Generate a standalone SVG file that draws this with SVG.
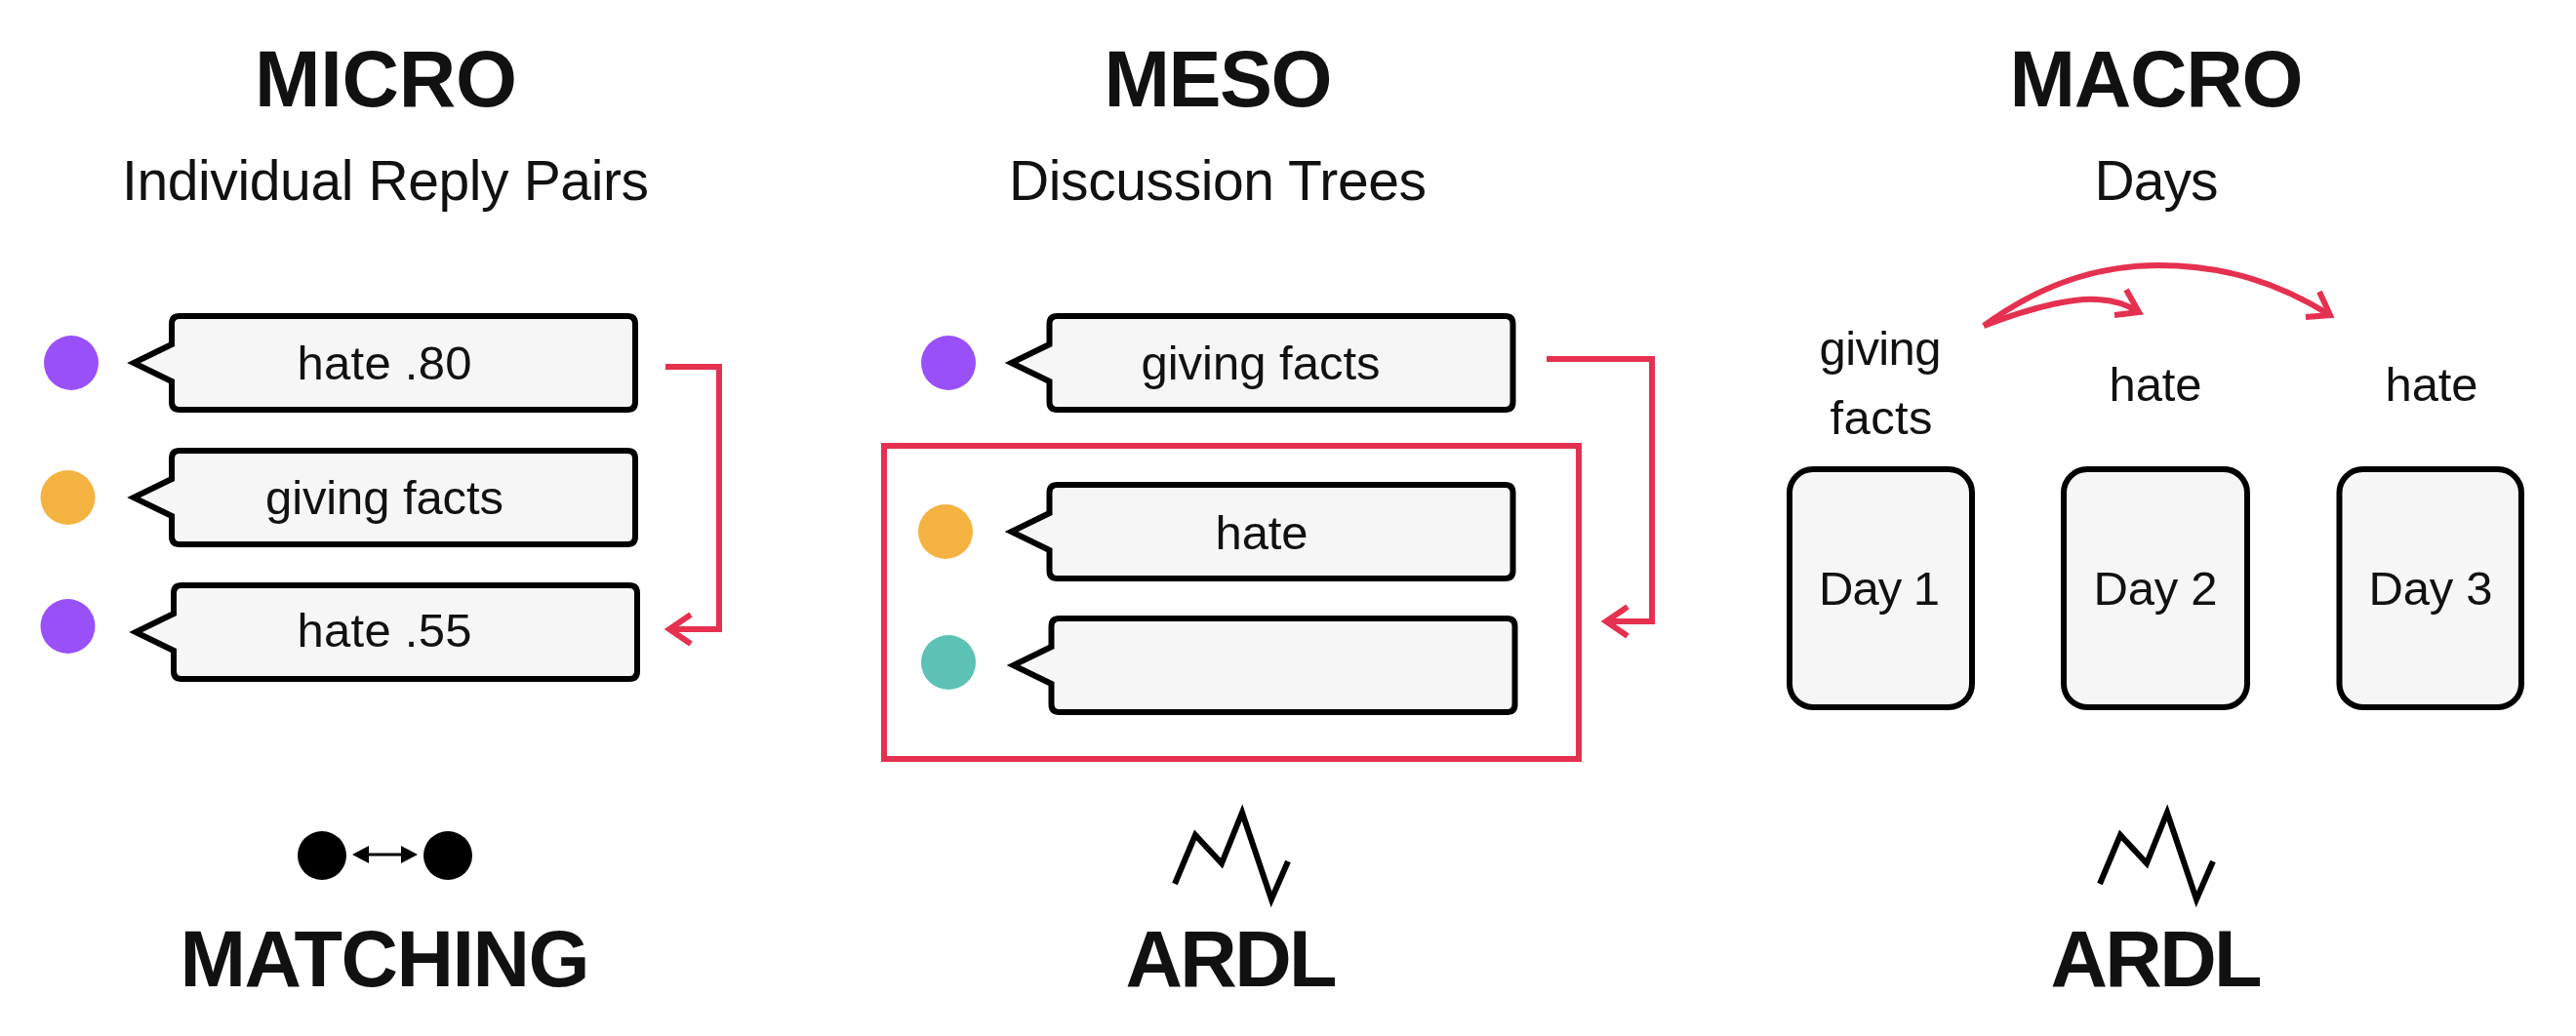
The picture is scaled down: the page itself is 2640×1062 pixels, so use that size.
<svg xmlns="http://www.w3.org/2000/svg" width="2640" height="1062" viewBox="0 0 2640 1062">
<style>
text{font-family:"Liberation Sans",Arial,sans-serif;fill:#111;text-anchor:middle}
.h{font-size:81px;font-weight:700}
.s{font-size:57px}
.t{font-size:49px}
.b{fill:#f6f6f6;stroke:#000;stroke-width:6;stroke-linejoin:miter}
.r{fill:none;stroke:#e5314f;stroke-width:6;stroke-linejoin:miter}
.k{fill:none;stroke:#000;stroke-width:6;stroke-linejoin:miter}
.pu{fill:#9a50f8}.or{fill:#f4b341}.te{fill:#5bc2b5}
</style>
<defs>
<path id="bubble" d="M8 0H467Q475 0 475 8V88Q475 96 467 96H8Q0 96 0 88V67L-39 48L0 29V8Q0 0 8 0Z"/>
<polyline id="zig" points="1204,906 1225,856 1252,885 1273,833 1303,922 1320,883"/>
</defs>
<g id="titles">
<text class="h" x="395.500" y="109" textLength="269">MICRO</text>
<text class="s" x="395" y="205" textLength="540">Individual Reply Pairs</text>
<text class="h" x="1248.500" y="109" textLength="234">MESO</text>
<text class="s" x="1248" y="205" textLength="428">Discussion Trees</text>
<text class="h" x="2210" y="109" textLength="301">MACRO</text>
<text class="s" x="2210" y="205" textLength="127">Days</text>
</g>
<g id="micro-1"><circle class="pu" cx="73" cy="372" r="28"/><use href="#bubble" class="b" x="176" y="324"/><text class="t" x="394" y="389" textLength="179">hate .80</text></g>
<g id="micro-2"><circle class="or" cx="69.500" cy="510" r="28"/><use href="#bubble" class="b" x="176" y="462"/><text class="t" x="394" y="527" textLength="244">giving facts</text></g>
<g id="micro-3"><circle class="pu" cx="69.500" cy="642" r="28"/><use href="#bubble" class="b" x="178" y="600"/><text class="t" x="394" y="663" textLength="179">hate .55</text></g>
<g id="meso-1"><circle class="pu" cx="972" cy="372" r="28"/><use href="#bubble" class="b" x="1075.500" y="324"/><text class="t" x="1292" y="389" textLength="245">giving facts</text></g>
<g id="meso-group"><rect class="r" x="906" y="457" width="712" height="321"/></g>
<g id="meso-2"><circle class="or" cx="969" cy="545" r="28"/><use href="#bubble" class="b" x="1075.500" y="497"/><text class="t" x="1293" y="563" textLength="95">hate</text></g>
<g id="meso-3"><circle class="te" cx="972" cy="679" r="28"/><use href="#bubble" class="b" x="1077.500" y="634"/></g>
<g id="day-1"><rect class="b" x="1834" y="481" width="187" height="244" rx="24"/><text class="t" x="1926" y="620" textLength="124">Day 1</text></g>
<g id="day-2"><rect class="b" x="2115" y="481" width="188" height="244" rx="24"/><text class="t" x="2209" y="620" textLength="127">Day 2</text></g>
<g id="day-3"><rect class="b" x="2397.500" y="481" width="186.500" height="244" rx="24"/><text class="t" x="2491" y="620" textLength="127">Day 3</text></g>
<g id="labels">
<text class="t" x="1927" y="373.500" textLength="125">giving</text>
<text class="t" x="1928" y="445" textLength="105">facts</text>
<text class="t" x="2209" y="411" textLength="95">hate</text>
<text class="t" x="2492" y="411" textLength="95">hate</text>
</g>
<g id="connectors">
<path class="r" d="M682 376H737V645H686"/>
<path class="r" d="M708 630L686 645L708 660"/>
<path class="r" d="M1585 368H1693V637H1646"/>
<path class="r" d="M1668 622L1646 637L1668 652"/>
<path class="r" d="M2033 334C2100 285 2160 272 2212 272C2280 272 2335 290 2388 323"/>
<path class="r" d="M2377 299L2388 323L2363 325"/>
<path class="r" d="M2033 334C2090 312 2130 305 2150 307C2170 308 2183 314 2192 320"/>
<path class="r" d="M2179 297L2192 320L2167 323"/>
</g>
<g id="method-micro">
<circle cx="330" cy="877" r="25" fill="#000"/><circle cx="459" cy="877" r="25" fill="#000"/>
<line x1="375" y1="876" x2="414" y2="876" stroke="#000" stroke-width="3"/>
<polygon points="361,876 378,867 378,885"/><polygon points="428,876 411,867 411,885"/>
<text class="h" x="394.500" y="1011" textLength="420">MATCHING</text>
</g>
<g id="method-meso"><use href="#zig" class="k"/><text class="h" x="1262" y="1011" textLength="217">ARDL</text></g>
<g id="method-macro"><use href="#zig" class="k" x="948"/><text class="h" x="2210" y="1011" textLength="217">ARDL</text></g>
</svg>
